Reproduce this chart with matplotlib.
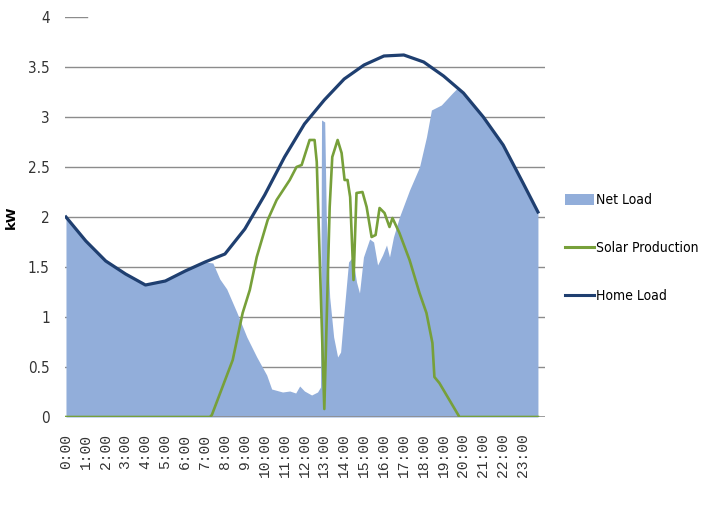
import matplotlib
matplotlib.use("Agg")
import matplotlib.pyplot as plt
from matplotlib.patches import Patch
from matplotlib.lines import Line2D

plt.rcParams['font.family'] = ['DejaVu Sans']

# Home load (kW), hourly readings plus last sample at 23:45
homeHours = [0, 1, 2, 3, 4, 5, 6, 7, 8, 9, 10, 11, 12, 13, 14, 15, 16, 17, 18, 19, 20, 21, 22, 23, 23.75]
homeLoad = [2.00, 1.76, 1.56, 1.43, 1.32, 1.36, 1.46, 1.55, 1.63, 1.88, 2.22, 2.60, 2.93, 3.17, 3.38,
            3.52, 3.61, 3.62, 3.55, 3.41, 3.24, 3.00, 2.72, 2.34, 2.05]

# Solar production (kW)
solarHours = [0, 7.24, 7.34, 8.39, 8.89, 9.25, 9.6, 10.15, 10.6, 11.26, 11.6, 11.86, 12.26, 12.51, 12.62,
              13.0, 13.27, 13.4, 13.67, 13.87, 14.02, 14.17, 14.3, 14.47, 14.62, 14.92, 15.13, 15.38,
              15.58, 15.78, 16.03, 16.28, 16.43, 16.78, 17.29, 17.79, 18.14, 18.44, 18.54, 18.79, 19.8, 23.75]
solarProd = [0, 0, 0.02, 0.57, 1.04, 1.27, 1.60, 1.97, 2.17, 2.37, 2.50, 2.52, 2.77, 2.77, 2.55,
             0.08, 2.10, 2.60, 2.77, 2.64, 2.37, 2.37, 2.20, 1.37, 2.24, 2.25, 2.10, 1.80,
             1.82, 2.09, 2.04, 1.90, 1.99, 1.84, 1.57, 1.24, 1.04, 0.74, 0.40, 0.34, 0.0, 0.0]

# Net load (kW) = what the home still draws from the grid
netHours = [0, 1, 2, 3, 4, 5, 6, 7, 7.39, 7.74, 8.09, 8.59, 9.1, 9.6, 10.1, 10.35, 10.9, 11.26, 11.56,
            11.76, 12.0, 12.36, 12.66, 12.81, 12.86, 13.02, 13.1, 13.27, 13.47, 13.67, 13.82, 13.97,
            14.22, 14.42, 14.62, 14.77, 14.97, 15.28, 15.48, 15.68, 15.93, 16.13, 16.28, 16.48, 16.78,
            17.29, 17.79, 18.14, 18.39, 18.59, 18.89, 19.45, 19.7, 20, 21, 22, 23, 23.75]
netLoad = [2.00, 1.76, 1.56, 1.43, 1.32, 1.36, 1.46, 1.55, 1.54, 1.38, 1.28, 1.05, 0.80, 0.60, 0.42, 0.28,
           0.25, 0.26, 0.24, 0.31, 0.26, 0.22, 0.25, 0.30, 2.97, 2.95, 2.00, 1.20, 0.80, 0.60, 0.65, 1.00,
           1.55, 1.60, 1.35, 1.24, 1.60, 1.78, 1.75, 1.52, 1.62, 1.72, 1.60, 1.80, 2.00,
           2.27, 2.50, 2.80, 3.07, 3.09, 3.12, 3.24, 3.29, 3.24, 3.00, 2.72, 2.34, 2.05]

tickLabels = ["%d:00" % h for h in range(24)]

netColor = '#92AEDA'
solarColor = '#77A03A'
homeColor = '#1F3F70'
gridColor = '#8C8C8C'
textColor = '#333333'

fig = plt.figure(figsize=(7.04, 5.07), dpi=100)
ax = fig.add_axes([0.0923, 0.1775, 0.6817, 0.789])

ax.set_axisbelow(True)
for y in [0.5, 1, 1.5, 2, 2.5, 3, 3.5]:
    ax.axhline(y, color=gridColor, lw=1.0, zorder=0)
ax.axhline(4, xmax=0.045, color=gridColor, lw=1.0, zorder=0)

ax.fill_between(netHours, netLoad, 0, color=netColor, lw=0, zorder=1)
ax.axhline(0, color=gridColor, lw=1.2, zorder=2)
ax.plot(solarHours, solarProd, color=solarColor, lw=1.9, zorder=3)
ax.plot(homeHours, homeLoad, color=homeColor, lw=2.3, zorder=4, solid_joinstyle='round')

ax.set_xlim(-0.05, 24.1)
ax.set_ylim(0, 4)
ax.set_yticks([0, 0.5, 1, 1.5, 2, 2.5, 3, 3.5, 4])
ax.set_yticklabels(["0", "0.5", "1", "1.5", "2", "2.5", "3", "3.5", "4"], fontsize=11,
                   fontstretch='condensed', color=textColor)
ax.set_xticks(range(24))
ax.set_xticklabels(tickLabels, rotation=90, fontsize=10.5, family='Liberation Mono', color=textColor)
ax.tick_params(axis='y', length=0, pad=11)
ax.tick_params(axis='x', length=0, pad=12)
for s in ax.spines.values():
    s.set_visible(False)

ax.set_ylabel("kW", fontsize=9.5, fontweight='bold')
ax.yaxis.set_label_coords(-0.098, 0.5)

handles = [Patch(facecolor=netColor, edgecolor='none'),
           Line2D([], [], color=solarColor, lw=2.2),
           Line2D([], [], color=homeColor, lw=2.2)]
fig.legend(handles, ["Net Load", "Solar Production", "Home Load"], loc='center left',
           bbox_to_anchor=(0.785, 0.51), frameon=False, labelspacing=2.45,
           handlelength=2.1, handletextpad=0.1, handleheight=0.9,
           prop={'stretch': 'condensed', 'size': 10})

fig.savefig("out.png", dpi=100, facecolor='white')
